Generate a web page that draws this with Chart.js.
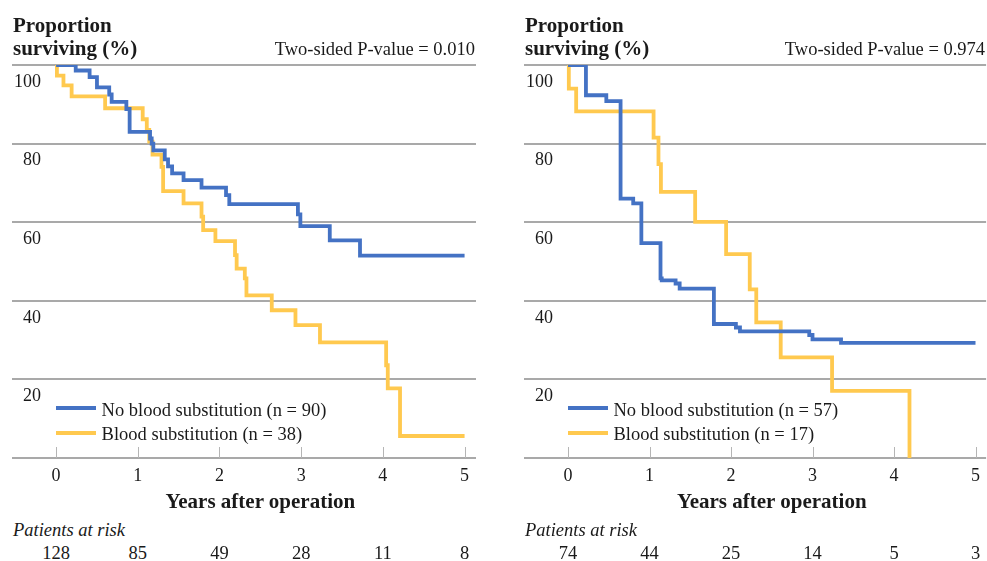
<!DOCTYPE html>
<html>
<head>
<meta charset="utf-8">
<script src="https://cdn.jsdelivr.net/npm/chart.js@4.4.1/dist/chart.umd.min.js"></script>
<style>
  html, body { margin: 0; padding: 0; background: #fff; }
  #wrap { position: relative; width: 987px; height: 561px; overflow: hidden;
          font-family: 'Liberation Serif', 'Times New Roman', serif; color: #1a1a1a; }
  canvas { position: absolute; top: 0; }
  .t { position: absolute; white-space: nowrap; line-height: 1; }
  .key { position: absolute; height: 4px; width: 40px; }
</style>
</head>
<body>
<div id="wrap">
  <canvas id="leftChart" width="490" height="490" style="left:0px"></canvas>
  <canvas id="rightChart" width="475" height="490" style="left:512px"></canvas>
</div>
<script>
// ---- data ----
const years = [0, 1, 2, 3, 4, 5];
const yTickValues = [20, 40, 60, 80, 100];

// left panel
const leftNoBloodT = [0, 0.24, 0.41, 0.50, 0.65, 0.68, 0.86, 0.90, 1.15, 1.17, 1.19, 1.33, 1.37, 1.42, 1.56, 1.78, 2.08, 2.12, 2.96, 2.99, 3.35, 3.72, 5.0];
const leftNoBloodS = [100, 98.6, 96.9, 94.3, 92.5, 90.6, 88.8, 83.0, 81.3, 80.0, 78.3, 76.0, 74.2, 72.4, 70.7, 68.8, 66.9, 64.6, 62.0, 59.0, 55.4, 51.5, 51.5];
const leftBloodT = [0, 0.01, 0.09, 0.19, 0.60, 1.06, 1.11, 1.14, 1.18, 1.29, 1.31, 1.56, 1.78, 1.80, 1.95, 2.19, 2.21, 2.31, 2.33, 2.64, 2.93, 3.23, 4.04, 4.06, 4.21, 5.0];
const leftBloodS = [100, 97.3, 94.8, 92.0, 89.0, 86.2, 83.5, 80.5, 77.2, 74.1, 67.9, 64.8, 61.4, 58.0, 55.2, 51.6, 48.2, 45.7, 41.4, 37.6, 33.8, 29.4, 23.6, 17.7, 5.6, 5.6];
const leftLabels = ['No blood substitution (n = 90)', 'Blood substitution (n = 38)'];
const leftPValue = '0.010';
const leftAtRisk = [128, 85, 49, 28, 11, 8];

// right panel
const rightNoBloodT = [0, 0.22, 0.47, 0.645, 0.80, 0.90, 1.135, 1.15, 1.32, 1.37, 1.79, 2.06, 2.11, 2.96, 3.00, 3.35, 5.0];
const rightNoBloodS = [100, 92.3, 90.8, 66.0, 64.8, 54.7, 45.7, 45.2, 44.4, 43.1, 34.1, 33.2, 32.2, 31.3, 30.2, 29.3, 29.3];
const rightBloodT = [0, 0.01, 0.10, 1.05, 1.11, 1.14, 1.56, 1.94, 2.23, 2.31, 2.61, 3.24, 4.19];
const rightBloodS = [100, 94.0, 88.2, 81.5, 74.8, 67.7, 60.1, 51.9, 42.9, 34.5, 25.6, 17.1, 0];
const rightLabels = ['No blood substitution (n = 57)', 'Blood substitution (n = 17)'];
const rightPValue = '0.974';
const rightAtRisk = [74, 44, 25, 14, 5, 3];

const BLUE = '#4472C4';
const GOLD = '#FFC94F';
const GRID = '#a9a9a9';
const TEXT = '#1a1a1a';
const FONT = "'Liberation Serif', 'Times New Roman', serif";

Chart.defaults.font.family = FONT;
Chart.defaults.color = TEXT;

function toPoints(ts, ss) {
    return ts.map((t, i) => ({ x: t, y: ss[i] }));
}

// y labels sit just under each gridline; small tick marks point up from the axis
const axisDecor = {
    id: 'axisDecor',
    beforeDatasetsDraw(chart) {
        const { ctx, chartArea, scales } = chart;
        ctx.save();
        ctx.strokeStyle = '#b5b5b5';
        ctx.lineWidth = 1;
        years.forEach(v => {
            const px = Math.round(scales.x.getPixelForValue(v)) + 0.5;
            ctx.beginPath();
            ctx.moveTo(px, chartArea.bottom - 11);
            ctx.lineTo(px, chartArea.bottom);
            ctx.stroke();
        });
        ctx.fillStyle = TEXT;
        ctx.font = '18px ' + FONT;
        ctx.textAlign = 'right';
        ctx.textBaseline = 'middle';
        yTickValues.forEach(v => {
            ctx.fillText(String(v), chartArea.left + 29, scales.y.getPixelForValue(v) + 17);
        });
        ctx.restore();
    }
};

function buildChart(id, panel) {
    const line = (label, data, color) => ({
        label: label,
        data: data,
        borderColor: color,
        borderWidth: 3.8,
        stepped: true,
        pointRadius: 0,
        fill: false,
        borderCapStyle: 'butt',
        borderJoinStyle: 'miter'
    });
    return new Chart(document.getElementById(id), {
        type: 'line',
        data: {
            datasets: [
                line(panel.labels[0], toPoints(panel.noT, panel.noS), BLUE),
                line(panel.labels[1], toPoints(panel.yesT, panel.yesS), GOLD)
            ]
        },
        options: {
            responsive: false,
            animation: false,
            devicePixelRatio: 1,
            layout: { padding: { left: 12, right: panel.padRight, top: 65, bottom: 2 } },
            plugins: { legend: { display: false }, tooltip: { enabled: false } },
            scales: {
                x: {
                    type: 'linear',
                    min: -0.54,
                    max: panel.xMax,
                    afterBuildTicks: s => { s.ticks = years.map(v => ({ value: v })); },
                    afterFit: s => { s.height = 30; },
                    grid: { display: false, drawTicks: false },
                    border: { display: false },
                    ticks: { padding: 7, color: TEXT, font: { size: 18 }, maxRotation: 0 }
                },
                y: {
                    min: 0,
                    max: 100,
                    afterBuildTicks: s => { s.ticks = [0].concat(yTickValues).map(v => ({ value: v })); },
                    afterFit: s => { s.width = 0; },
                    grid: { color: GRID, lineWidth: 2, drawTicks: false },
                    border: { display: false },
                    ticks: { display: false }
                }
            }
        },
        plugins: [axisDecor]
    });
}

const wrap = document.getElementById('wrap');

function addText(text, x, baseline, size, opts) {
    opts = opts || {};
    const d = document.createElement('div');
    d.className = 't';
    d.textContent = text;
    d.style.fontSize = size + 'px';
    if (opts.bold) d.style.fontWeight = 'bold';
    if (opts.italic) d.style.fontStyle = 'italic';
    if (opts.lineHeight) d.style.lineHeight = opts.lineHeight + 'px';
    const lh = opts.lineHeight || size;
    d.style.top = (baseline - ((lh - 1.107 * size) / 2 + 0.891 * size)) + 'px';
    d.style.left = x + 'px';
    if (opts.align === 'right') d.style.transform = 'translateX(-100%)';
    if (opts.align === 'center') d.style.transform = 'translateX(-50%)';
    wrap.appendChild(d);
    return d;
}

function decorate(chart, offsetX, panel) {
    const area = chart.chartArea;
    const xs = chart.scales.x;
    // header
    const h = addText('Proportion', offsetX + 13, 32.3, 21, { bold: true, lineHeight: 22.7 });
    h.innerHTML = 'Proportion<br>surviving (%)';
    addText('Two-sided P-value = ' + panel.p, offsetX + area.right - 1, 55, 18.5, { align: 'right' });
    // legend
    [BLUE, GOLD].forEach((c, i) => {
        const k = document.createElement('div');
        k.className = 'key';
        k.style.background = c;
        k.style.left = (offsetX + xs.getPixelForValue(0)) + 'px';
        k.style.top = (406.3 + i * 24.4) + 'px';
        wrap.appendChild(k);
        addText(panel.labels[i], offsetX + xs.getPixelForValue(0) + 45.5, 416 + i * 24.2, 18.5);
    });
    // axis title
    const mid = offsetX + (xs.getPixelForValue(0) + xs.getPixelForValue(5)) / 2;
    addText('Years after operation', mid, 508.3, 21, { bold: true, align: 'center' });
    // patients at risk
    addText('Patients at risk', offsetX + 13, 536.5, 18.5, { italic: true });
    panel.risk.forEach((n, i) => {
        addText(String(n), offsetX + xs.getPixelForValue(years[i]), 559, 18.5, { align: 'center' });
    });
}

const leftPanel = { noT: leftNoBloodT, noS: leftNoBloodS, yesT: leftBloodT, yesS: leftBloodS,
                    labels: leftLabels, p: leftPValue, risk: leftAtRisk, xMax: 5.14, padRight: 14 };
const rightPanel = { noT: rightNoBloodT, noS: rightNoBloodS, yesT: rightBloodT, yesS: rightBloodS,
                     labels: rightLabels, p: rightPValue, risk: rightAtRisk, xMax: 5.13, padRight: 0 };

const leftChart = buildChart('leftChart', leftPanel);
const rightChart = buildChart('rightChart', rightPanel);
decorate(leftChart, 0, leftPanel);
decorate(rightChart, 512, rightPanel);
</script>
</body>
</html>
